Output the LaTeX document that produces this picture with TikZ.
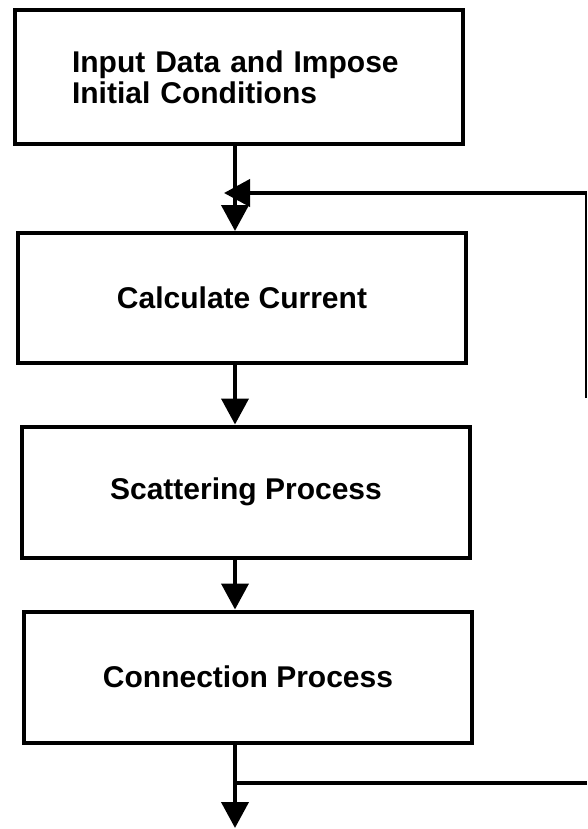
\documentclass[tikz,border=0pt]{standalone}
\usepackage{fontspec}
\setmainfont{Liberation Sans}
\usetikzlibrary{arrows.meta}

\begin{document}
\begin{tikzpicture}[x=1pt,y=-1pt,
  stepbox/.style={draw=black, line width=4pt, rectangle, minimum width=448pt,
    font=\fontsize{30}{31}\selectfont\bfseries, inner sep=0pt},
  wire/.style={draw=black, line width=4pt},
  thinwire/.style={draw=black, line width=1.6pt},
  arr/.style={wire, -{Triangle[length=26pt,width=27pt]}},
]
\useasboundingbox (0,0) rectangle (587,829);

% process boxes
\node[stepbox, minimum height=134pt, text width=334pt, align=left] (b1) at (239,77)
  {Input Data and Impose\\Initial Conditions};
\node[stepbox, minimum height=130pt] (b2) at (242,298) {Calculate Current};
\node[stepbox, minimum height=131pt] (b3) at (246,492) {Scattering Process};
\node[stepbox, minimum height=131pt] (b4) at (248,677) {Connection Process};

% axis of the main flow and loop points
\coordinate (ax) at (235,0);
\coordinate (j)  at (235,783);
\coordinate (e)  at (235,828);
\coordinate (r1) at (587,783);
\coordinate (r2) at (586,193);
\coordinate (r3) at (586,398);
\coordinate (t)  at (224,193);

% main flow
\draw[arr] (b1.south -| ax) -- (b2.north -| ax);
\draw[arr] (b2.south -| ax) -- (b3.north -| ax);
\draw[arr] (b3.south -| ax) -- (b4.north -| ax);
\draw[arr] (b4.south -| ax) -- (e);

% feedback loop
\draw[wire] (j) -- (r1);
\draw[thinwire] (r3) -- (r2);
\draw[arr, shorten <=-0.8pt] (r2) -- (t);
\end{tikzpicture}
\end{document}
